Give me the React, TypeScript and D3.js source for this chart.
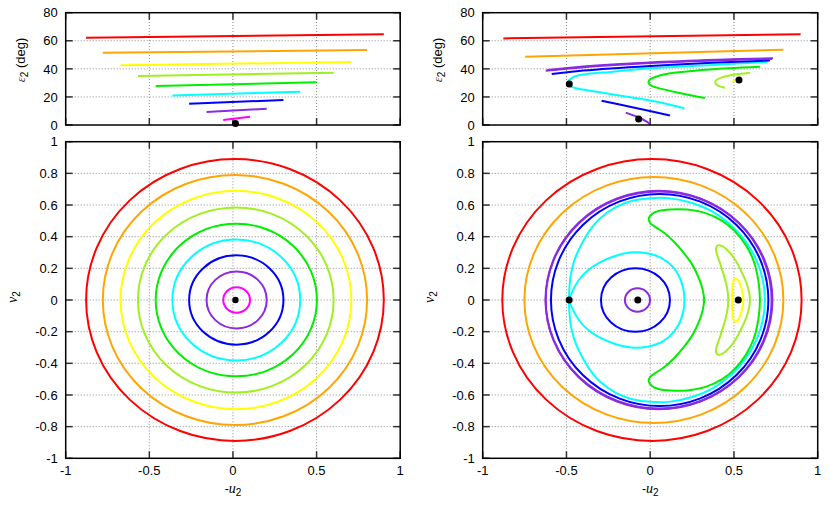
import React from "react";
import * as d3 from "d3";

type P = [number, number];

// ---------- axis ticks ----------
const xTickValues = [-1, -0.5, 0, 0.5, 1];
const xTickLabels = ["-1", "-0.5", "0", "0.5", "1"];
const epsTickValues = [0, 20, 40, 60, 80];
const epsTickLabels = ["0", "20", "40", "60", "80"];
const vTickValues = [-1, -0.8, -0.6, -0.4, -0.2, 0, 0.2, 0.4, 0.6, 0.8, 1];
const vTickLabels = ["-1", "-0.8", "-0.6", "-0.4", "-0.2", "0", "0.2", "0.4", "0.6", "0.8", "1"];

// ---------- left panels (concentric orbits) ----------
const leftColors = ["#ff0000", "#ffa500", "#ffff00", "#a0f020", "#00ee00", "#00ffff", "#0000ff", "#8a2be2", "#ff00ff"];
const leftCenterU = [0.012, 0.012, 0.018, 0.017, 0.02, 0.02, 0.02, 0.022, 0.022];
const leftRadius = [0.89, 0.79, 0.69, 0.585, 0.482, 0.382, 0.282, 0.18, 0.08];
const leftEpsAtLeft = [62.2, 51.5, 42.5, 34.9, 27.8, 21.1, 15.2, 9.3, 3.6];
const leftEpsAtRight = [64.6, 53.4, 44.9, 37.3, 30.4, 23.7, 17.8, 11.6, 5.9];
const leftFixedU = [0.015];
const leftFixedV = [0];
const leftFixedEps = [1.0];

// ---------- right bottom: near-elliptic orbits ----------
const rightEllipseColors = ["#ff0000", "#ffa500", "#8a2be2", "#8a2be2", "#0000ff", "#0000ff", "#8a2be2"];
const rightEllipseCenterU = [0.0105, 0.022, 0.05, 0.053, 0.0565, -0.088, -0.076];
const rightEllipseRadiusU = [0.8935, 0.773, 0.675, 0.677, 0.649, 0.206, 0.075];
const rightEllipseRadiusV = [0.89, 0.777, 0.69, 0.686, 0.67, 0.201, 0.074];

// upper halves (v >= 0) of the symmetric orbits, from v=0 on the right to v=0 on the left
const cyanOuterUpper: P[] = [
  [0.685, 0], [0.672, 0.13], [0.635, 0.25], [0.57, 0.37], [0.48, 0.475], [0.37, 0.56],
  [0.25, 0.613], [0.12, 0.642], [0.0, 0.643], [-0.1, 0.628], [-0.2, 0.59], [-0.3, 0.515],
  [-0.35, 0.455], [-0.39, 0.39], [-0.43, 0.31], [-0.456, 0.24], [-0.474, 0.16], [-0.482, 0.08], [-0.485, 0],
];
const cyanInnerUpper: P[] = [
  [0.204, 0], [0.198, 0.07], [0.168, 0.16], [0.11, 0.235], [0.03, 0.283], [-0.1, 0.301],
  [-0.21, 0.278], [-0.3, 0.238], [-0.37, 0.19], [-0.425, 0.128], [-0.46, 0.065], [-0.485, 0],
];
const greenUpper: P[] = [
  [0.655, 0], [0.646, 0.12], [0.618, 0.245], [0.572, 0.345], [0.505, 0.435], [0.43, 0.5],
  [0.33, 0.549], [0.22, 0.571], [0.12, 0.572], [0.05, 0.562], [0.01, 0.543], [-0.009, 0.513],
  [0.0, 0.485], [0.03, 0.462], [0.085, 0.423], [0.145, 0.365], [0.2, 0.298], [0.25, 0.225],
  [0.29, 0.14], [0.312, 0.07], [0.322, 0],
];
const greenYellowUpper: P[] = [
  [0.596, 0], [0.582, 0.085], [0.54, 0.19], [0.5, 0.265], [0.466, 0.31], [0.43, 0.34],
  [0.405, 0.345], [0.393, 0.33], [0.397, 0.295], [0.417, 0.232], [0.437, 0.165],
  [0.453, 0.105], [0.463, 0.05], [0.466, 0],
];
const yellowUpper: P[] = [
  [0.556, 0], [0.55, 0.05], [0.538, 0.095], [0.522, 0.128], [0.508, 0.138], [0.496, 0.12],
  [0.49, 0.07], [0.49, 0],
];
const rightFixedU = [-0.484, -0.074, 0.526];
const rightFixedV = [0, 0, 0];

// ---------- right top: eps along each orbit ----------
const trRed: P[] = [[-0.877, 61.7], [0.898, 64.6]];
const trOrange: P[] = [[-0.747, 48.6], [0.795, 53.6]];
const trPurpleA: P[] = [[-0.624, 38.7], [-0.4, 41.2], [0.0, 44.2], [0.4, 46.0], [0.727, 47.1]];
const trPurpleB: P[] = [[-0.615, 39.2], [-0.4, 41.7], [0.0, 44.6], [0.4, 46.5], [0.733, 47.6]];
const trBlue: P[] = [[-0.588, 36.3], [-0.4, 38.8], [0.0, 42.1], [0.4, 44.5], [0.715, 45.9]];
const trCyan: P[] = [
  [0.7, 44.9], [0.4, 43.0], [0.0, 40.4], [-0.22, 38.0], [-0.419, 35.6], [-0.462, 34.0],
  [-0.485, 31.8], [-0.49, 29.6], [-0.478, 27.6], [-0.449, 26.4], [-0.3, 23.3], [-0.1, 19.4],
  [0.0, 17.5], [0.1, 15.0], [0.204, 11.9],
];
const trGreen: P[] = [
  [0.656, 41.5], [0.466, 40.4], [0.267, 38.7], [0.12, 36.8], [0.04, 34.6], [-0.004, 32.2],
  [-0.01, 30.0], [0.006, 28.0], [0.04, 26.6], [0.168, 23.0], [0.327, 19.2],
];
const trGreenYellow: P[] = [
  [0.596, 37.3], [0.487, 35.6], [0.42, 33.6], [0.392, 31.6], [0.389, 29.8], [0.405, 28.1], [0.447, 26.6],
];
const trYellow: P[] = [[0.49, 30.4], [0.503, 32.0], [0.53, 32.9]];
const trBlueInner: P[] = [[-0.29, 17.3], [-0.1, 12.5], [0.118, 6.8]];
const trPurpleInner: P[] = [[-0.146, 8.8], [-0.071, 5.5], [-0.021, 2.4], [0.0, 0.5]];
const rightFixedEps = [29.2, 4.3, 32.0];
const rightFixedEpsU = [-0.483, -0.069, 0.53];

const C = {
  red: "#ff0000", orange: "#ffa500", yellow: "#ffff00", gy: "#a0f020", green: "#00ee00",
  cyan: "#00ffff", blue: "#0000ff", purple: "#8a2be2",
};

const FONT = "'Liberation Sans', Arial, Helvetica, sans-serif";

function mirrorClosed(upper: P[]): P[] {
  const lower = upper.slice(1, -1).reverse().map(([u, v]) => [u, -v] as P);
  return upper.concat(lower);
}
function mirrorOpenFromEnd(upper: P[]): P[] {
  const rev = upper.slice().reverse();
  const lower = upper.slice(1).map(([u, v]) => [u, -v] as P);
  return rev.concat(lower);
}

type Scale = d3.ScaleLinear<number, number>;

function Axes(props: {
  x: Scale; y: Scale; yTicks: number[]; yLabels: string[]; showX: boolean;
}) {
  const { x, y, yTicks, yLabels, showX } = props;
  const [xl, xr] = x.range();
  const [yb, yt] = y.range();
  const tick = 7;
  const els: React.ReactNode[] = [];
  xTickValues.forEach((t, i) => {
    const px = x(t);
    if (i > 0 && i < xTickValues.length - 1) {
      els.push(<line key={"gx" + i} x1={px} x2={px} y1={yb} y2={yt} stroke="#888" strokeWidth={1} strokeDasharray="1,2" />);
    }
    els.push(<line key={"tb" + i} x1={px} x2={px} y1={yb} y2={yb - tick} stroke="#333" strokeWidth={1.5} />);
    els.push(<line key={"tt" + i} x1={px} x2={px} y1={yt} y2={yt + tick} stroke="#333" strokeWidth={1.5} />);
    if (showX) {
      els.push(
        <text key={"lx" + i} x={px} y={yb + 17} textAnchor="middle" fontSize={13} fontFamily={FONT} fill="#000">
          {xTickLabels[i]}
        </text>
      );
    }
  });
  yTicks.forEach((t, i) => {
    const py = y(t);
    if (i > 0 && i < yTicks.length - 1) {
      els.push(<line key={"gy" + i} x1={xl} x2={xr} y1={py} y2={py} stroke="#888" strokeWidth={1} strokeDasharray="1,2" />);
    }
    els.push(<line key={"tl" + i} x1={xl} x2={xl + tick} y1={py} y2={py} stroke="#333" strokeWidth={1.5} />);
    els.push(<line key={"tr" + i} x1={xr} x2={xr - tick} y1={py} y2={py} stroke="#333" strokeWidth={1.5} />);
    els.push(
      <text key={"ly" + i} x={xl - 8} y={py} dy="0.36em" textAnchor="end" fontSize={13} fontFamily={FONT} fill="#000">
        {yLabels[i]}
      </text>
    );
  });
  return <g>{els}</g>;
}

function FrameBox({ x, y }: { x: Scale; y: Scale }) {
  const [xl, xr] = x.range();
  const [yb, yt] = y.range();
  return <rect x={xl} y={yt} width={xr - xl} height={yb - yt} fill="none" stroke="#000" strokeWidth={1.5} />;
}

function Labels({ dx, x }: { dx: number; x: Scale }) {
  const cx = (x.range()[0] + x.range()[1]) / 2;
  return (
    <g fontFamily={FONT} fill="#000">
      <text transform={`translate(${25 + dx},60) rotate(-90)`} textAnchor="middle" fontSize={13}>
        <tspan fontStyle="italic" fontFamily="'Liberation Serif', serif" fill="#444">ε</tspan>
        <tspan fontSize={10} dy={3}>2</tspan>
        <tspan dy={-3}> (deg)</tspan>
      </text>
      <text transform={`translate(${17 + dx},297) rotate(-90)`} textAnchor="middle" fontSize={14}>
        <tspan fontStyle="italic" fontFamily="'Liberation Serif', serif">v</tspan>
        <tspan fontSize={10} dy={3}>2</tspan>
      </text>
      <text x={cx} y={493} textAnchor="middle" fontSize={14}>
        <tspan fontSize={12}>-</tspan>
        <tspan fontStyle="italic" fontFamily="'Liberation Serif', serif">u</tspan>
        <tspan fontSize={10} dy={3}>2</tspan>
      </text>
    </g>
  );
}

export default function App() {
  const xL = d3.scaleLinear().domain([-1, 1]).range([65.7, 400.2]);
  const xR = d3.scaleLinear().domain([-1, 1]).range([482.7, 817.7]);
  const yTop = d3.scaleLinear().domain([0, 80]).range([125, 12.7]);
  const yBot = d3.scaleLinear().domain([-1, 1]).range([458.3, 141.7]);

  const lineL = d3.line<P>().x((d) => xL(d[0])).y((d) => yTop(d[1]));
  const lineRT = d3.line<P>().x((d) => xR(d[0])).y((d) => yTop(d[1])).curve(d3.curveCatmullRom.alpha(0.5));
  const loopRB = d3.line<P>().x((d) => xR(d[0])).y((d) => yBot(d[1])).curve(d3.curveCatmullRomClosed.alpha(0.5));
  const openRB = d3.line<P>().x((d) => xR(d[0])).y((d) => yBot(d[1])).curve(d3.curveCatmullRom.alpha(0.5));

  const sw = 2;

  const topRight: [P[], string][] = [
    [trRed, C.red], [trOrange, C.orange], [trYellow, C.yellow], [trGreenYellow, C.gy], [trGreen, C.green],
    [trCyan, C.cyan], [trBlueInner, C.blue], [trBlue, C.blue], [trPurpleInner, C.purple],
    [trPurpleB, C.purple], [trPurpleA, C.purple],
  ];

  return (
    <svg width={830} height={505} style={{ display: "block", position: "absolute", left: 0, top: 0 }}>
      <rect x={0} y={0} width={830} height={505} fill="#fff" />

      {/* ---------- top-left ---------- */}
      <Axes x={xL} y={yTop} yTicks={epsTickValues} yLabels={epsTickLabels} showX={false} />
      {leftColors.map((c, i) => (
        <path key={"tl" + i}
          d={lineL([[leftCenterU[i] - leftRadius[i], leftEpsAtLeft[i]], [leftCenterU[i] + leftRadius[i], leftEpsAtRight[i]]]) || ""}
          stroke={c} strokeWidth={sw} fill="none" />
      ))}
      {leftFixedU.map((u, i) => (
        <circle key={"tlf" + i} cx={xL(u)} cy={yTop(leftFixedEps[i])} r={3.5} fill="#000" />
      ))}
      <FrameBox x={xL} y={yTop} />

      {/* ---------- bottom-left ---------- */}
      <Axes x={xL} y={yBot} yTicks={vTickValues} yLabels={vTickLabels} showX={true} />
      {leftColors.map((c, i) => (
        <ellipse key={"bl" + i} cx={xL(leftCenterU[i])} cy={yBot(0)}
          rx={xL(leftCenterU[i] + leftRadius[i]) - xL(leftCenterU[i])}
          ry={yBot(0) - yBot(leftRadius[i])}
          stroke={c} strokeWidth={sw} fill="none" />
      ))}
      {leftFixedU.map((u, i) => (
        <circle key={"blf" + i} cx={xL(u)} cy={yBot(leftFixedV[i])} r={3.2} fill="#000" />
      ))}
      <FrameBox x={xL} y={yBot} />
      <Labels dx={0} x={xL} />

      {/* ---------- top-right ---------- */}
      <Axes x={xR} y={yTop} yTicks={epsTickValues} yLabels={epsTickLabels} showX={false} />
      {topRight.map(([pts, c], i) => (
        <path key={"tr" + i} d={lineRT(pts) || ""} stroke={c} strokeWidth={sw} fill="none" />
      ))}
      {rightFixedEpsU.map((u, i) => (
        <circle key={"trf" + i} cx={xR(u)} cy={yTop(rightFixedEps[i])} r={3.5} fill="#000" />
      ))}
      <FrameBox x={xR} y={yTop} />

      {/* ---------- bottom-right ---------- */}
      <Axes x={xR} y={yBot} yTicks={vTickValues} yLabels={vTickLabels} showX={true} />
      {rightEllipseColors.map((c, i) => (
        <ellipse key={"bre" + i} cx={xR(rightEllipseCenterU[i])} cy={yBot(0)}
          rx={xR(rightEllipseCenterU[i] + rightEllipseRadiusU[i]) - xR(rightEllipseCenterU[i])}
          ry={yBot(0) - yBot(rightEllipseRadiusV[i])}
          stroke={c} strokeWidth={sw} fill="none" />
      ))}
      <path d={openRB(mirrorOpenFromEnd(cyanOuterUpper)) || ""} stroke={C.cyan} strokeWidth={sw} fill="none" />
      <path d={openRB(mirrorOpenFromEnd(cyanInnerUpper)) || ""} stroke={C.cyan} strokeWidth={sw} fill="none" />
      <path d={loopRB(mirrorClosed(greenUpper)) || ""} stroke={C.green} strokeWidth={sw} fill="none" />
      <path d={loopRB(mirrorClosed(greenYellowUpper)) || ""} stroke={C.gy} strokeWidth={sw} fill="none" />
      <path d={loopRB(mirrorClosed(yellowUpper)) || ""} stroke={C.yellow} strokeWidth={sw} fill="none" />
      {rightFixedU.map((u, i) => (
        <circle key={"brf" + i} cx={xR(u)} cy={yBot(rightFixedV[i])} r={3.5} fill="#000" />
      ))}
      <FrameBox x={xR} y={yBot} />
      <Labels dx={417} x={xR} />
    </svg>
  );
}
